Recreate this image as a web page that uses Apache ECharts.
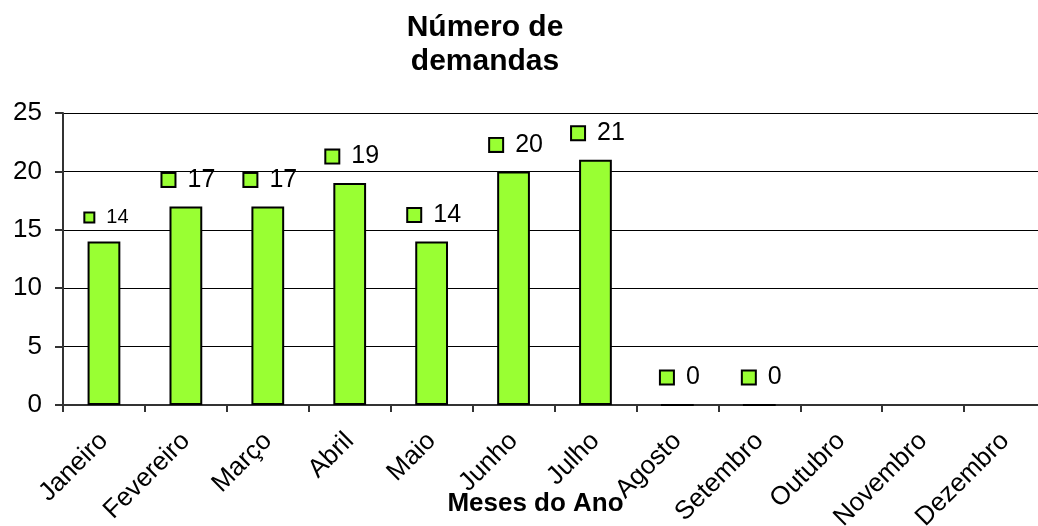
<!DOCTYPE html>
<html>
<head>
<meta charset="utf-8">
<script src="https://cdn.jsdelivr.net/npm/echarts@6/dist/echarts.min.js"></script>
<style>
html,body{margin:0;padding:0;background:#fff;}
#chart{width:1038px;height:526px;}
</style>
</head>
<body>
<div id="chart"></div>
<script>
const categories = ['Janeiro','Fevereiro','Março','Abril','Maio','Junho','Julho','Agosto','Setembro','Outubro','Novembro','Dezembro'];
const demandas = [14, 17, 17, 19, 14, 20, 21, 0, 0, null, null, null];
const yTicks = [0, 5, 10, 15, 20, 25];
const titleText = 'Número de\ndemandas';
const xAxisName = 'Meses do Ano';

const FONT = '"Liberation Sans", Arial, sans-serif';
const GREEN = '#99ff33';

const seriesData = demandas.map((v, i) => {
  if (v === null) return { value: '-' };
  const item = { value: v };
  if (i === 0) {
    item.label = { formatter: '{sqs|}{vs|{c}}' };
  }
  return item;
});

const chart = echarts.init(document.getElementById('chart'), null, { renderer: 'canvas' });
chart.setOption({
  animation: false,
  backgroundColor: '#ffffff',
  title: {
    text: titleText,
    left: 480,
    top: 6,
    textAlign: 'center',
    textStyle: { fontFamily: FONT, fontWeight: 'bold', fontSize: 30, lineHeight: 34, color: '#000' }
  },
  grid: { left: 63, right: -8, top: 113, bottom: 121, containLabel: false, outerBoundsMode: 'none' },
  xAxis: {
    type: 'category',
    data: categories,
    name: xAxisName,
    nameLocation: 'middle',
    nameGap: 86,
    nameMoveOverlap: false,
    nameTextStyle: { fontFamily: FONT, fontWeight: 'bold', fontSize: 26, color: '#000', padding: [0, 38, 0, 0] },
    axisLine: { lineStyle: { color: '#333', width: 2 } },
    axisTick: { show: true, alignWithLabel: false, length: 7, lineStyle: { color: '#333', width: 2 } },
    axisLabel: { rotate: 45, fontFamily: FONT, fontSize: 26, color: '#000', margin: 32, interval: 0 }
  },
  yAxis: {
    type: 'value',
    min: yTicks[0],
    max: yTicks[yTicks.length - 1],
    interval: 5,
    axisLine: { show: true, lineStyle: { color: '#333', width: 2 } },
    axisTick: { show: true, length: 8, lineStyle: { color: '#333', width: 2 } },
    axisLabel: { fontFamily: FONT, fontSize: 26, color: '#000', margin: 21 },
    splitLine: { show: true, lineStyle: { color: '#000', width: 1 } }
  },
  series: [{
    type: 'bar',
    data: seriesData,
    barWidth: '40%',
    itemStyle: { color: GREEN, borderColor: '#000', borderWidth: 2 },
    label: {
      show: true,
      position: 'top',
      distance: 14,
      offset: [3, 0],
      formatter: '{sq|}{v|{c}}',
      rich: {
        sq: { width: 12, height: 12, backgroundColor: GREEN, borderColor: '#000', borderWidth: 2 },
        v: { fontFamily: FONT, fontSize: 25, color: '#000', padding: [0, 0, 0, 13] },
        sqs: { width: 8, height: 8, backgroundColor: GREEN, borderColor: '#000', borderWidth: 2 },
        vs: { fontFamily: FONT, fontSize: 20, color: '#000', padding: [0, 0, 0, 13] }
      }
    }
  }]
});
</script>
</body>
</html>
